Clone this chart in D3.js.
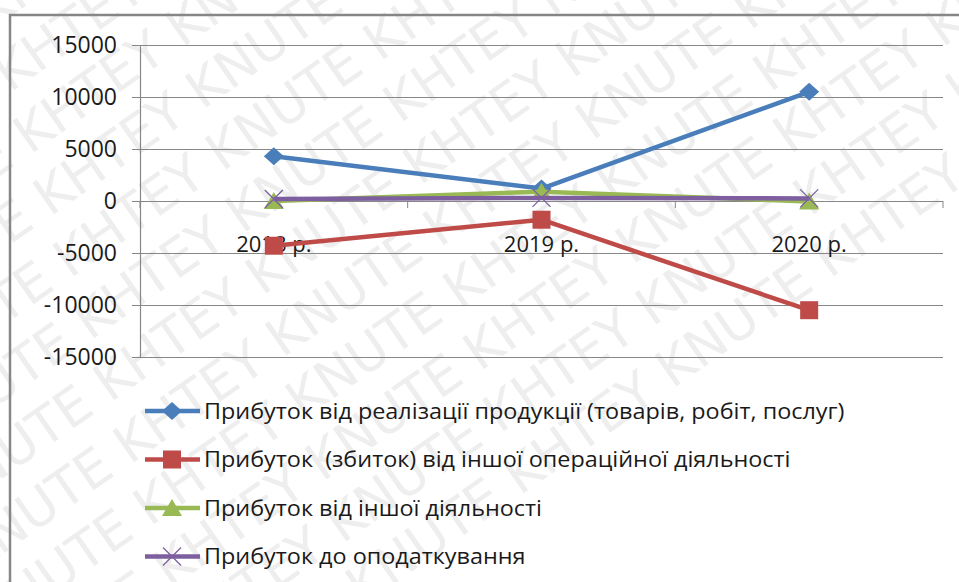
<!DOCTYPE html>
<html>
<head>
<meta charset="utf-8">
<script src="https://cdn.jsdelivr.net/npm/d3@7"></script>
<style>
	body { margin: 0; background: #fff; }
	svg { display: block; }
	text { font-family: "Open Sans", Lato, sans-serif; fill: #1a1a1a; white-space: pre; }
</style>
</head>
<body>
<svg width="959" height="582"></svg>
<script>

	var years = ["2018 р.", "2019 р.", "2020 р."];
	var series_names = [
		"Прибуток від реалізації продукції (товарів, робіт, послуг)",
		"Прибуток  (збиток) від іншої операційної діяльності",
		"Прибуток від іншої діяльності",
		"Прибуток до оподаткування"
	];
	var sales_profit = [4300, 1200, 10500];
	var other_oper_profit = [-4300, -1800, -10500];
	var other_activity_profit = [0, 900, -50];
	var pretax_profit = [200, 300, 250];
	var y_ticks = [15000, 10000, 5000, 0, -5000, -10000, -15000];

	var all_series = [sales_profit, other_oper_profit, other_activity_profit, pretax_profit];
	var colors = ["#4a7ebb", "#be4b48", "#98b954", "#7d5fa0"];
	var markers = ["diamond", "square", "triangle", "cross"];

	var svg = d3.select("svg");

	// watermark
	var wm = svg.append("g").attr("class", "watermark");
	for (var r = -6; r < 16; r++) {
		wm.append("text")
			.attr("transform", "translate(" + (-400 + r * 20) + "," + (r * 62) + ") rotate(-35)")
			.attr("x", 0).attr("y", 0)
			.style("font-size", "52px")
			.style("fill", "#eeeeee")
			.style("font-family", "'DejaVu Sans', sans-serif")
			.text("KHTEY KNUTE KHTEY KNUTE KHTEY KNUTE KHTEY KNUTE");
	}

	// frame
	svg.append("path")
		.attr("d", "M10,582 L10,15 L959,15")
		.attr("fill", "none")
		.attr("stroke", "#868686")
		.attr("stroke-width", 2.5);

	var plot = { left: 140, right: 943, top: 45, bottom: 357 };

	var x = d3.scalePoint().domain(years).range([plot.left, plot.right]).padding(0.5);
	var y = d3.scaleLinear().domain([-15000, 15000]).range([plot.bottom, plot.top]);

	// gridlines
	svg.append("g")
		.selectAll("line")
		.data(y_ticks)
		.enter()
		.append("line")
		.attr("x1", plot.left - 8)
		.attr("x2", plot.right)
		.attr("y1", function(d){ return Math.round(y(d)) + 0.5; })
		.attr("y2", function(d){ return Math.round(y(d)) + 0.5; })
		.attr("stroke", "#878787")
		.attr("stroke-width", 1.2);

	// y axis line
	svg.append("line")
		.attr("x1", plot.left + 0.5).attr("x2", plot.left + 0.5)
		.attr("y1", plot.top).attr("y2", plot.bottom)
		.attr("stroke", "#878787")
		.attr("stroke-width", 1.2);

	// y tick labels
	svg.append("g")
		.selectAll("text")
		.data(y_ticks)
		.enter()
		.append("text")
		.attr("x", plot.left - 23)
		.attr("y", function(d){ return y(d); })
		.attr("dy", "0.36em")
		.attr("text-anchor", "end")
		.style("font-size", "23px")
		.text(function(d){ return d; });

	// x tick marks on zero line
	svg.append("g")
		.selectAll("line")
		.data([0, 1, 2, 3])
		.enter()
		.append("line")
		.attr("x1", function(i){ return plot.left + i * (plot.right - plot.left) / 3; })
		.attr("x2", function(i){ return plot.left + i * (plot.right - plot.left) / 3; })
		.attr("y1", y(0))
		.attr("y2", y(0) + 7)
		.attr("stroke", "#878787");

	// category labels
	svg.append("g")
		.selectAll("text")
		.data(years)
		.enter()
		.append("text")
		.attr("x", function(d){ return x(d); })
		.attr("y", y(0) + 43)
		.attr("dy", "0.36em")
		.attr("text-anchor", "middle")
		.style("font-size", "22px")
		.text(function(d){ return d; });

	var line = d3.line()
		.x(function(d, i){ return x(years[i]); })
		.y(function(d){ return y(d); });

	function draw_marker(g, type, color, cx, cy) {
		if (type === "diamond") {
			g.append("path")
				.attr("d", "M" + cx + "," + (cy - 9) + " L" + (cx + 10) + "," + cy + " L" + cx + "," + (cy + 9) + " L" + (cx - 10) + "," + cy + "Z")
				.attr("fill", color);
		} else if (type === "square") {
			g.append("rect")
				.attr("x", cx - 9).attr("y", cy - 9)
				.attr("width", 18).attr("height", 18)
				.attr("fill", color);
		} else if (type === "triangle") {
			g.append("path")
				.attr("d", "M" + cx + "," + (cy - 9) + " L" + (cx + 10) + "," + (cy + 8) + " L" + (cx - 10) + "," + (cy + 8) + "Z")
				.attr("fill", color);
		} else {
			g.append("path")
				.attr("d", "M" + (cx - 9) + "," + (cy - 9) + " L" + (cx + 9) + "," + (cy + 9) + " M" + (cx + 9) + "," + (cy - 9) + " L" + (cx - 9) + "," + (cy + 9))
				.attr("stroke", color)
				.attr("stroke-width", 1.3)
				.attr("fill", "none");
		}
	}

	// series lines then markers
	all_series.forEach(function(values, s){
		var g = svg.append("g").attr("class", "series");
		g.append("path")
			.datum(values)
			.attr("d", line)
			.attr("fill", "none")
			.attr("stroke", colors[s])
			.attr("stroke-width", 4.5)
			.attr("stroke-linejoin", "round");
		values.forEach(function(v, i){
			draw_marker(g, markers[s], colors[s], x(years[i]), y(v));
		});
	});

	// legend (the source picture is stretched sideways, so widen the text to fit)
	var legend = svg.append("g").attr("class", "legend");
	var legend_texts = [];
	series_names.forEach(function(name, s){
		var ly = 411 + s * 48.5;
		legend.append("line")
			.attr("x1", 145).attr("x2", 200)
			.attr("y1", ly).attr("y2", ly)
			.attr("stroke", colors[s])
			.attr("stroke-width", 4.5);
		draw_marker(legend, markers[s], colors[s], 172, ly);
		legend_texts.push(legend.append("text")
			.attr("x", 0)
			.attr("y", ly)
			.attr("dy", "0.36em")
			.style("font-size", "21px")
			.text(name));
	});
	var stretch = 641 / legend_texts[0].node().getComputedTextLength();
	legend_texts.forEach(function(t){
		t.attr("transform", "translate(204,0) scale(" + stretch + ",1)");
	});

</script>
</body>
</html>
